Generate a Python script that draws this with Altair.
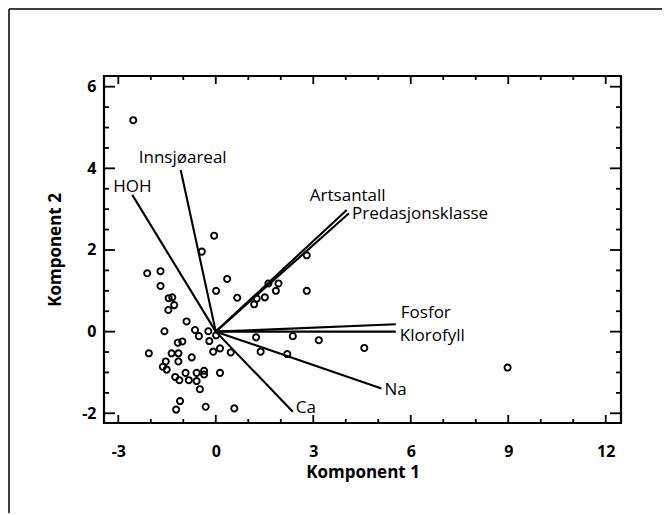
import altair as alt
import pandas as pd

# ---- scores (Komponent 1, Komponent 2) ----
pc1 = [-2.54, -0.05, -0.43, -2.11, -1.70, -1.70, 0.35, 0.01, 0.66, -1.45,
       -1.34, -1.28, -1.46, -0.90, -1.58, -0.64, -0.52, -0.23, -0.20, 0.01,
       -1.17, -1.03, -2.06, -1.36, -1.15, -0.74, -1.15, -1.54, -1.63, -1.51,
       -0.08, 0.13, 0.46, 0.13, -0.93, -0.59, -0.36, -0.36, -1.25, -1.12,
       -0.83, -0.59, -0.49, -1.10, -1.22, -0.31, 0.57, 1.18, 1.26, 1.51,
       1.62, 1.85, 1.93, 2.80, 2.80, 1.24, 1.38, 2.37, 2.20, 3.17,
       4.57, 8.98]
pc2 = [5.18, 2.35, 1.96, 1.43, 1.48, 1.12, 1.29, 1.00, 0.83, 0.82,
       0.84, 0.65, 0.53, 0.25, 0.01, 0.04, -0.11, 0.01, -0.23, -0.09,
       -0.27, -0.24, -0.53, -0.53, -0.53, -0.63, -0.73, -0.73, -0.86, -0.93,
       -0.49, -0.41, -0.51, -1.01, -1.01, -1.01, -0.96, -1.05, -1.11, -1.19,
       -1.19, -1.21, -1.41, -1.70, -1.91, -1.84, -1.88, 0.67, 0.81, 0.84,
       1.18, 1.00, 1.18, 1.87, 1.00, -0.14, -0.49, -0.11, -0.55, -0.21,
       -0.40, -0.88]

# ---- loading vectors ----
load_names = ["HOH", "Innsjøareal", "Artsantall", "Predasjonsklasse",
              "Fosfor", "Klorofyll", "Na", "Ca"]
load_x = [-2.57, -1.08, 4.03, 4.10, 5.54, 5.54, 5.10, 2.37]
load_y = [3.35, 3.96, 2.98, 2.90, 0.18, 0.00, -1.39, -1.96]

# ---- axis ticks ----
x_label_ticks = [-3, 0, 3, 6, 9, 12]
y_label_ticks = [-2, 0, 2, 4, 6]
x_minor_ticks = [-2, -1, 1, 2, 4, 5, 7, 8, 10, 11]
y_minor_ticks = [-1.5, -1, -0.5, 0.5, 1, 1.5, 2.5, 3, 3.5, 4.5, 5, 5.5]

x_domain = [-3.44, 12.47]
y_domain = [-2.238, 6.262]

W, H = 517, 347
PAD = {"left": 96, "top": 68, "right": 41, "bottom": 90}
FONT = "Open Sans"

xscale = alt.Scale(domain=x_domain, nice=False, zero=False)
yscale = alt.Scale(domain=y_domain, nice=False, zero=False)

xaxis = alt.Axis(title="Komponent 1", values=x_label_ticks, ticks=False, domain=False,
                 grid=False, labelExpr="'' + datum.value",
                 labelFont=FONT, labelFontSize=16, labelFontWeight="bold",
                 labelColor="black", labelPadding=20, labelFlush=False, labelOverlap=False,
                 titleFont=FONT, titleFontSize=17, titleFontWeight="bold",
                 titleColor="black", titlePadding=5)
yaxis = alt.Axis(title="Komponent 2", values=y_label_ticks, ticks=False, domain=False,
                 grid=False, labelExpr="'' + datum.value",
                 labelFont=FONT, labelFontSize=16, labelFontWeight="bold",
                 labelColor="black", labelPadding=8, labelFlush=False, labelOverlap=False,
                 titleFont=FONT, titleFontSize=17, titleFontWeight="bold",
                 titleColor="black", titlePadding=17)


def X(field):
    return alt.X(f"{field}:Q", scale=xscale, axis=xaxis)


def Y(field):
    return alt.Y(f"{field}:Q", scale=yscale, axis=yaxis)


scores = pd.DataFrame({"x": pc1, "y": pc2})
loads = pd.DataFrame({"name": load_names, "x1": load_x, "y1": load_y,
                      "x0": [0.0] * len(load_x), "y0": [0.0] * len(load_y)})

layers = []

# outer figure border: top and left edges
one = pd.DataFrame({"a": [0]})
layers.append(
    alt.Chart(one).mark_rule(color="black", strokeWidth=1.5)
    .encode(x=alt.value(-95), x2=alt.value(W + PAD["right"]),
            y=alt.value(-67), y2=alt.value(-67))
)
layers.append(
    alt.Chart(one).mark_rule(color="black", strokeWidth=1.5)
    .encode(x=alt.value(-95), x2=alt.value(-95),
            y=alt.value(-67), y2=alt.value(H + PAD["bottom"]))
)

# scatter of scores
layers.append(
    alt.Chart(scores).mark_point(shape="circle", filled=False, size=38,
                                 strokeWidth=1.9, color="black", opacity=1)
    .encode(x=X("x"), y=Y("y"))
)

# loading vectors
layers.append(
    alt.Chart(loads).mark_rule(color="black", strokeWidth=2.1)
    .encode(x=X("x0"), y=Y("y0"), x2="x1:Q", y2="y1:Q")
)

# labels of vectors: (align, dx, dy)
label_style = {
    "HOH": ("center", 0, -3),
    "Innsjøareal": ("center", 2, -7),
    "Artsantall": ("center", 1, -9),
    "Predasjonsklasse": ("left", 3, 6),
    "Fosfor": ("left", 5, -6),
    "Klorofyll": ("left", 4, 9),
    "Na": ("left", 3, 7),
    "Ca": ("left", 3, 1),
}
for nm in load_names:
    al, dx, dy = label_style[nm]
    sub = loads[loads["name"] == nm]
    layers.append(
        alt.Chart(sub).mark_text(align=al, baseline="alphabetic", dx=dx, dy=dy,
                                 font=FONT, fontSize=17, color="black")
        .encode(x=X("x1"), y=Y("y1"), text="name:N")
    )

# inward ticks on all four sides
xmaj = pd.DataFrame({"x": x_label_ticks})
xmin = pd.DataFrame({"x": x_minor_ticks})
ymaj = pd.DataFrame({"y": y_label_ticks})
ymin = pd.DataFrame({"y": y_minor_ticks})

for df, ln in [(xmaj, 8), (xmin, 4)]:
    layers.append(alt.Chart(df).mark_rule(color="black", strokeWidth=1.8)
                  .encode(x=X("x"), y=alt.value(H), y2=alt.value(H - ln)))
    layers.append(alt.Chart(df).mark_rule(color="black", strokeWidth=1.8)
                  .encode(x=X("x"), y=alt.value(0), y2=alt.value(ln)))
for df, ln in [(ymaj, 11), (ymin, 5)]:
    layers.append(alt.Chart(df).mark_rule(color="black", strokeWidth=1.8)
                  .encode(y=Y("y"), x=alt.value(0), x2=alt.value(ln)))
    layers.append(alt.Chart(df).mark_rule(color="black", strokeWidth=1.8)
                  .encode(y=Y("y"), x=alt.value(W), x2=alt.value(W - ln)))

chart = alt.layer(*layers).properties(
    width=W, height=H,
    autosize=alt.AutoSizeParams(type="none"),
    padding=PAD,
    background="white",
).configure_view(stroke="black", strokeWidth=2.2)

chart.save("out.html", embed_options={"renderer": "svg", "actions": False})
